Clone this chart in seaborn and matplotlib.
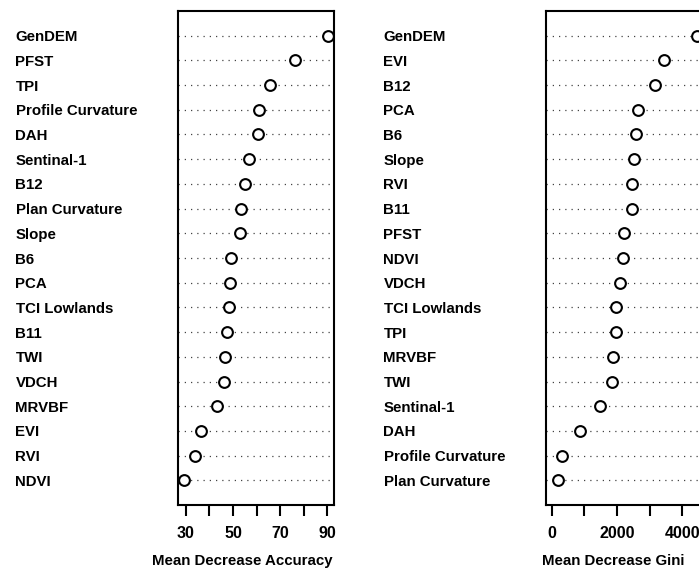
import numpy as np
import pandas as pd
import seaborn as sns
import matplotlib.pyplot as plt

# variable importance from the random forest
acc_vars = ['GenDEM', 'PFST', 'TPI', 'Profile Curvature', 'DAH', 'Sentinal-1', 'B12',
            'Plan Curvature', 'Slope', 'B6', 'PCA', 'TCI Lowlands', 'B11', 'TWI', 'VDCH',
            'MRVBF', 'EVI', 'RVI', 'NDVI']
acc_vals = [90.4, 76.5, 65.7, 61.2, 60.6, 56.7, 55.0, 53.3, 53.0, 49.0, 48.7, 48.2,
            47.6, 46.8, 46.0, 43.3, 36.5, 34.0, 29.1]

gini_vars = ['GenDEM', 'EVI', 'B12', 'PCA', 'B6', 'Slope', 'RVI', 'B11', 'PFST', 'NDVI',
             'VDCH', 'TCI Lowlands', 'TPI', 'MRVBF', 'TWI', 'Sentinal-1', 'DAH',
             'Profile Curvature', 'Plan Curvature']
gini_vals = [4450, 3446, 3160, 2630, 2569, 2528, 2446, 2467, 2223, 2181, 2080, 1978,
             1957, 1876, 1855, 1489, 856, 306, 204]

sns.set_style('white', {'text.color': 'black', 'axes.labelcolor': 'black',
                        'xtick.color': 'black', 'ytick.color': 'black'})
plt.rcParams['font.family'] = ['Liberation Sans', 'DejaVu Sans']
plt.rcParams['font.weight'] = 'bold'

fig = plt.figure(figsize=(6.99, 5.76), dpi=100)
ax1 = fig.add_axes([178 / 699, 71 / 576, 156 / 699, 494 / 576])
ax2 = fig.add_axes([546 / 699, 71 / 576, 157 / 699, 494 / 576])


def dotchart(ax, names, vals, xlim, ticks, ticklabels, xlabel, label_x):
    n = len(names)
    df = pd.DataFrame({'var': names, 'imp': vals, 'pos': np.arange(n, 0, -1)})
    ax.hlines(df['pos'], xlim[0], xlim[1], colors='#444444', linestyles=(0, (1, 4)), lw=0.9)
    sns.scatterplot(data=df, x='imp', y='pos', ax=ax, s=60, marker='o',
                    facecolor='white', edgecolor='black', linewidth=1.5, zorder=3)
    ax.set_xlim(xlim)
    ax.set_ylim(0, n + 1)
    ax.set_yticks(df['pos'])
    ax.set_yticklabels(df['var'], ha='left', fontsize=10.8, fontweight='bold', color='black')
    ax.tick_params(axis='y', length=0, pad=117)
    ax.set_xticks(ticks)
    ax.set_xticklabels(ticklabels, fontsize=11.5, fontweight='bold', color='black')
    ax.tick_params(axis='x', length=8, width=1.5, pad=7, direction='out', bottom=True,
                   color='black')
    ax.set_xlabel(xlabel, fontsize=10.8, fontweight='bold', color='black')
    ax.xaxis.set_label_coords(label_x, -0.1)
    ax.set_ylabel('')
    for sp in ax.spines.values():
        sp.set_visible(True)
        sp.set_color('black')
        sp.set_linewidth(1.5)


acc_range = max(acc_vals) - min(acc_vals)
dotchart(ax1, acc_vars, acc_vals,
         (min(acc_vals) - 0.04 * acc_range, max(acc_vals) + 0.04 * acc_range),
         [30, 40, 50, 60, 70, 80, 90], ['30', '', '50', '', '70', '', '90'],
         'Mean Decrease Accuracy', 0.41)
dotchart(ax2, gini_vars, gini_vals,
         (-0.04 * max(gini_vals), 1.04 * max(gini_vals)),
         [0, 1000, 2000, 3000, 4000], ['0', '', '2000', '', '4000'],
         'Mean Decrease Gini', 0.43)

plt.savefig('out.png', dpi=100)
